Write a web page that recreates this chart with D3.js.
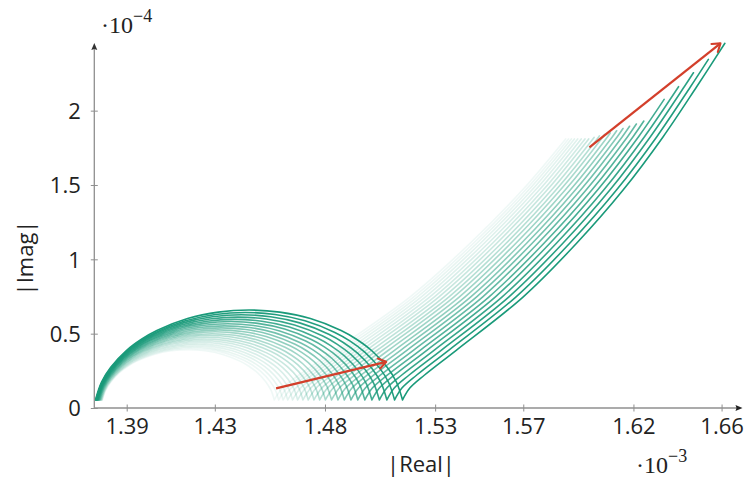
<!DOCTYPE html>
<html><head><meta charset="utf-8">
<script src="https://cdn.jsdelivr.net/npm/d3@7"></script>
<style>html,body{margin:0;padding:0;background:#fff}svg{display:block}</style>
</head><body>
<svg id="chart" width="747" height="481"></svg>
<script>
// ---- data (x in 1e-3, y in 1e-4) ----
const xTicks = [1.39, 1.43, 1.48, 1.53, 1.57, 1.62, 1.66];
const yTicks = [0, 0.5, 1, 1.5, 2];
const yTickLabels = ["0", "0.5", "1", "1.5", "2"];

// one entry per spectrum (22 curves, oldest -> newest)
const curveStartX = [1.3790,1.3788,1.3787,1.3785,1.3784,1.3782,1.3781,1.3779,1.3778,1.3776,1.3775,1.3773,1.3772,1.3770,1.3769,1.3767,1.3766,1.3764,1.3763,1.3761,1.3760,1.3758];
const cuspX = [1.4570,1.4590,1.4610,1.4631,1.4653,1.4676,1.4700,1.4724,1.4750,1.4776,1.4802,1.4830,1.4859,1.4888,1.4918,1.4949,1.4981,1.5013,1.5047,1.5081,1.5116,1.5152];
const tailTopY = [1.81,1.81,1.81,1.81,1.81,1.81,1.81,1.81,1.82,1.83,1.84,1.85,1.865,1.88,1.895,1.91,1.93,2.076,2.161,2.255,2.345,2.453];
const tailSpread = [1.125,1.119,1.113,1.107,1.101,1.095,1.089,1.083,1.077,1.071,1.065,1.059,1.053,1.047,1.041,1.035,1.029,1.023,1.017,1.011,1.006,1.0];
const curveOpacity = [0.07,0.08,0.1,0.12,0.14,0.17,0.2,0.24,0.28,0.32,0.37,0.42,0.48,0.54,0.61,0.68,0.75,0.82,0.88,0.93,0.97,1];

// shape of the largest (newest) arc: position along arc / relative height
const arcShapeT = [0,0.02,0.05,0.1,0.15,0.2,0.3,0.4,0.5,0.6,0.7,0.8,0.85,0.9,0.95,0.98,1];
const arcShapeY = [0,0.2,0.364,0.547,0.675,0.772,0.905,0.977,1,0.977,0.905,0.772,0.675,0.547,0.364,0.2,0];
const baseY = 0.054;
const refArcHeight = 0.605;
// diffusion tail of the newest curve: offset from cusp (x) and height (y)
const tailShapeDX = [0,0.0033,0.0100,0.0245,0.0548,0.0790,0.1001,0.1183,0.1335,0.1463];
const tailShapeY = [0.054,0.134,0.222,0.39,0.748,1.108,1.466,1.825,2.161,2.453];

// red trend arrows
const arrowFromX = [1.4578, 1.6000];
const arrowFromY = [0.1325, 1.753];
const arrowToX = [1.5078, 1.6595];
const arrowToY = [0.311, 2.4526];

// ---- drawing ----
const svg = d3.select("#chart");
const x = d3.scaleLinear().domain([1.3753, 1.6695]).range([94.3, 742.5]);
const y = d3.scaleLinear().domain([0, 2.455]).range([408, 43]);
const green = "#1a9a7a", red = "#d33f2b", axisCol = "#8f8f8f";

const n = cuspX.length;
const refWidth = cuspX[n-1] - curveStartX[n-1];
const lineGen = d3.line().x(d => x(d[0])).y(d => y(d[1])).curve(d3.curveCatmullRom.alpha(0.5));

const gCurves = svg.append("g");
for (let i = 0; i < n; i++) {
  const w = cuspX[i] - curveStartX[i];
  const s = w / refWidth;
  const arc = arcShapeT.map((t, j) => [curveStartX[i] + t * w, baseY + arcShapeY[j] * refArcHeight * s]);
  const tail = [];
  for (let j = 0; j < tailShapeY.length; j++) {
    const px = cuspX[i] + tailShapeDX[j] * tailSpread[i];
    if (tailShapeY[j] <= tailTopY[i]) tail.push([px, tailShapeY[j]]);
    else {
      const p0 = tail[tail.length-1];
      const f = (tailTopY[i] - p0[1]) / (tailShapeY[j] - p0[1]);
      tail.push([p0[0] + f * (px - p0[0]), tailTopY[i]]);
      break;
    }
  }
  const d = lineGen(arc) + lineGen(tail).replace(/^M/, "L");
  gCurves.append("path").attr("d", d).attr("fill", "none")
    .attr("stroke", green).attr("stroke-width", 1.6)
    .attr("stroke-opacity", curveOpacity[i])
    .attr("stroke-linejoin", "round").attr("stroke-linecap", "round");
}

// axes
const xAxis = d3.axisBottom(x).tickValues(xTicks).tickFormat(d3.format(".2f")).tickSizeOuter(0).tickSize(3.5).tickPadding(10);
const gx = svg.append("g").attr("transform", `translate(0,${y(0)})`).call(xAxis);
gx.select(".domain").remove();
gx.selectAll(".tick line").attr("y1", -3.5).attr("y2", 3.5).attr("stroke", axisCol);
gx.selectAll(".tick text").attr("font-family", "'Open Sans', sans-serif").attr("font-size", 22).attr("fill", "#222").attr("dy", "0.55em");

const yAxis = d3.axisLeft(y).tickValues(yTicks).tickFormat((d, i) => yTickLabels[i]).tickSizeOuter(0).tickSize(3.5).tickPadding(10);
const gy = svg.append("g").attr("transform", `translate(${x(1.3753)},0)`).call(yAxis);
gy.select(".domain").remove();
gy.selectAll(".tick line").attr("x1", -3.5).attr("x2", 3.5).attr("stroke", axisCol);
gy.selectAll(".tick text").attr("font-family", "'Open Sans', sans-serif").attr("font-size", 22).attr("fill", "#222").attr("dy", "0.36em");

// axis lines with arrow heads
const x0 = x.range()[0], x1 = x.range()[1], y0 = y.range()[0], y1 = y.range()[1];
svg.append("line").attr("x1", x0).attr("x2", x1 - 5).attr("y1", y0).attr("y2", y0).attr("stroke", axisCol).attr("stroke-width", 1.3);
svg.append("line").attr("x1", x0).attr("x2", x0).attr("y1", y0).attr("y2", y1 + 5).attr("stroke", axisCol).attr("stroke-width", 1.3);
svg.append("path").attr("d", `M${x1},${y0} L${x1-7},${y0-3} L${x1-6},${y0} L${x1-7},${y0+3} Z`).attr("fill", "#222");
svg.append("path").attr("d", `M${x0},${y1} L${x0-3},${y1+7} L${x0},${y1+6} L${x0+3},${y1+7} Z`).attr("fill", "#333");

// red arrows
for (let k = 0; k < arrowFromX.length; k++) {
  const ax0 = x(arrowFromX[k]), ay0 = y(arrowFromY[k]), ax1 = x(arrowToX[k]), ay1 = y(arrowToY[k]);
  const ang = Math.atan2(ay1 - ay0, ax1 - ax0);
  const L = 9, spread = 0.6;
  svg.append("line").attr("x1", ax0).attr("y1", ay0).attr("x2", ax1).attr("y2", ay1)
    .attr("stroke", red).attr("stroke-width", 2.3).attr("stroke-linecap", "butt");
  const h1 = [ax1 - L * Math.cos(ang - spread), ay1 - L * Math.sin(ang - spread)];
  const h2 = [ax1 - L * Math.cos(ang + spread), ay1 - L * Math.sin(ang + spread)];
  svg.append("path").attr("d", `M${h1[0]},${h1[1]} L${ax1},${ay1} L${h2[0]},${h2[1]}`)
    .attr("fill", "none").attr("stroke", red).attr("stroke-width", 2.1).attr("stroke-linejoin", "round").attr("stroke-linecap", "round");
}

// axis labels
svg.append("text").attr("x", 421).attr("y", 472).attr("text-anchor", "middle")
  .attr("font-family", "'Open Sans', sans-serif").attr("font-size", 22).attr("fill", "#222").text("|Real|");
svg.append("text").attr("transform", "translate(33,258) rotate(-90)").attr("text-anchor", "middle")
  .attr("font-family", "'Open Sans', sans-serif").attr("font-size", 22).attr("fill", "#222").text("|Imag|");

// scale factors
const sf = svg.append("text").attr("x", 636).attr("y", 473).attr("font-family", "'Liberation Serif', serif").attr("fill", "#222");
sf.append("tspan").attr("font-size", 24).text("·10");
sf.append("tspan").attr("font-size", 18).attr("dy", -11).text("−3");
const sf2 = svg.append("text").attr("x", 101).attr("y", 33).attr("font-family", "'Liberation Serif', serif").attr("fill", "#222");
sf2.append("tspan").attr("font-size", 24).text("·10");
sf2.append("tspan").attr("font-size", 18).attr("dy", -11).text("−4");
</script>
</body></html>
